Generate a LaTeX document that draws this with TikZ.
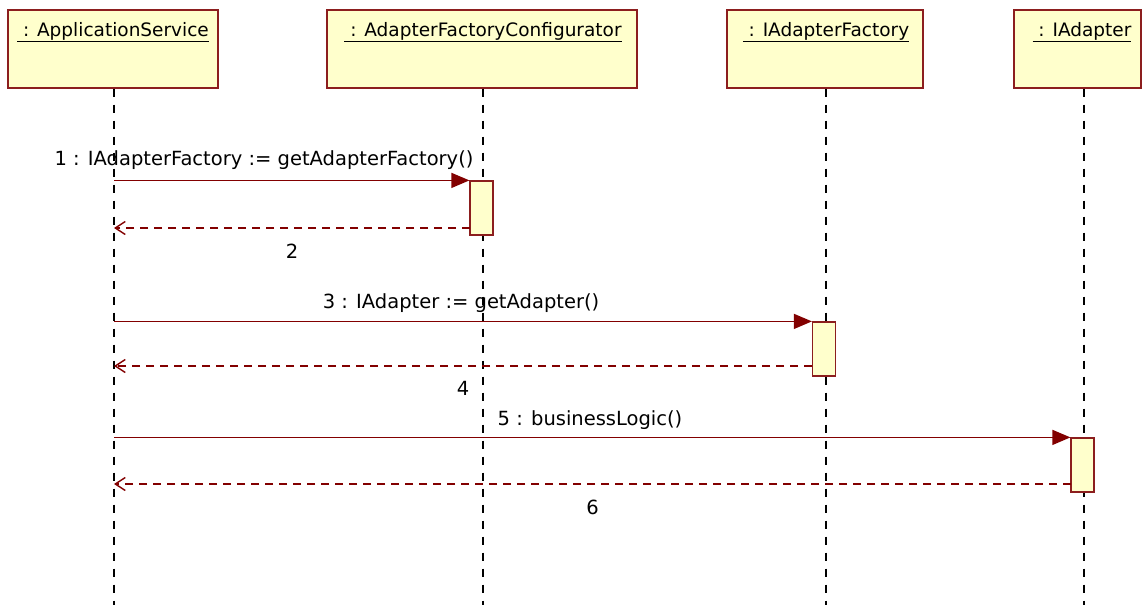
\documentclass[tikz,border=0pt]{standalone}
\usepackage{fontspec}
\setmainfont{DejaVu Sans}
\usetikzlibrary{arrows.meta}
\definecolor{umlfill}{RGB}{255,255,204}
\definecolor{umlline}{RGB}{140,30,30}
\definecolor{umlarrow}{RGB}{130,0,0}
\begin{document}
\begin{tikzpicture}[x=1pt, y=-1pt,
        actor/.style={draw=umlline, fill=umlfill, line width=1.2pt, minimum height=78pt, inner sep=0pt},
        title_node/.style={font=\fontsize{18.5}{20}\selectfont, inner sep=0pt},
        lifeline/.style={line width=1.6pt, dash pattern=on 8pt off 8pt},
        activation/.style={draw=umlline, fill=umlfill, line width=1.2pt, minimum width=23pt, minimum height=54pt, inner sep=0pt},
        call/.style={draw=umlarrow, line width=1.4pt, -{Triangle[length=18pt, width=15pt]}},
        reply/.style={draw=umlarrow, line width=1.4pt, dash pattern=on 8pt off 6pt, -{Straight Barb[length=10pt, width=13pt]}},
        msg_label/.style={font=\fontsize{19.5}{21}\selectfont, inner sep=0pt}
    ]
    \useasboundingbox (0,0) rectangle (1142,605);

    % Objects
    \node[actor, minimum width=210pt] (svc) at (113,49) {};
    \node[actor, minimum width=310pt] (cfg) at (482,49) {};
    \node[actor, minimum width=196pt] (fac) at (825,49) {};
    \node[actor, minimum width=127pt] (adp) at (1077.5,49) {};

    \node[title_node] at (113,32) {\underline{\ : ApplicationService}};
    \node[title_node] at (483,32) {\underline{\ : AdapterFactoryConfigurator}};
    \node[title_node] at (826,32) {\underline{\ : IAdapterFactory}};
    \node[title_node] at (1082,32) {\underline{\ : IAdapter}};

    % Lifelines
    \coordinate (svcend) at (114,605);
    \coordinate (cfgend) at (483,605);
    \coordinate (facend) at (826,605);
    \coordinate (adpend) at (1084,605);
    \draw[lifeline] (svc.south -| svcend) -- (svcend);
    \draw[lifeline] (cfg.south -| cfgend) -- (cfgend);
    \draw[lifeline] (fac.south -| facend) -- (facend);
    \draw[lifeline] (adp.south -| adpend) -- (adpend);

    % Activations
    \node[activation] (act1) at (481.5,208) {};
    \node[activation] (act2) at (824,349) {};
    \node[activation] (act3) at (1082.5,465) {};

    % Messages
    \draw[call] (act1.north west -| svcend) -- (act1.north west);
    \node[msg_label] at (264,160) {1 : IAdapterFactory := getAdapterFactory()};
    \coordinate (r1) at (470,228);
    \draw[reply] (r1) -- (r1 -| svcend) node[msg_label, midway, below=15pt] {2};

    \draw[call] (act2.north west -| svcend) -- (act2.north west);
    \node[msg_label] at (461,303) {3 : IAdapter := getAdapter()};
    \coordinate (r2) at (812,366);
    \draw[reply] (r2) -- (r2 -| svcend) node[msg_label, midway, below=15pt] {4};

    \draw[call] (act3.north west -| svcend) -- (act3.north west);
    \node[msg_label] at (590,420) {5 : businessLogic()};
    \coordinate (r3) at (1071,484);
    \draw[reply] (r3) -- (r3 -| svcend) node[msg_label, midway, below=15pt] {6};
\end{tikzpicture}
\end{document}
